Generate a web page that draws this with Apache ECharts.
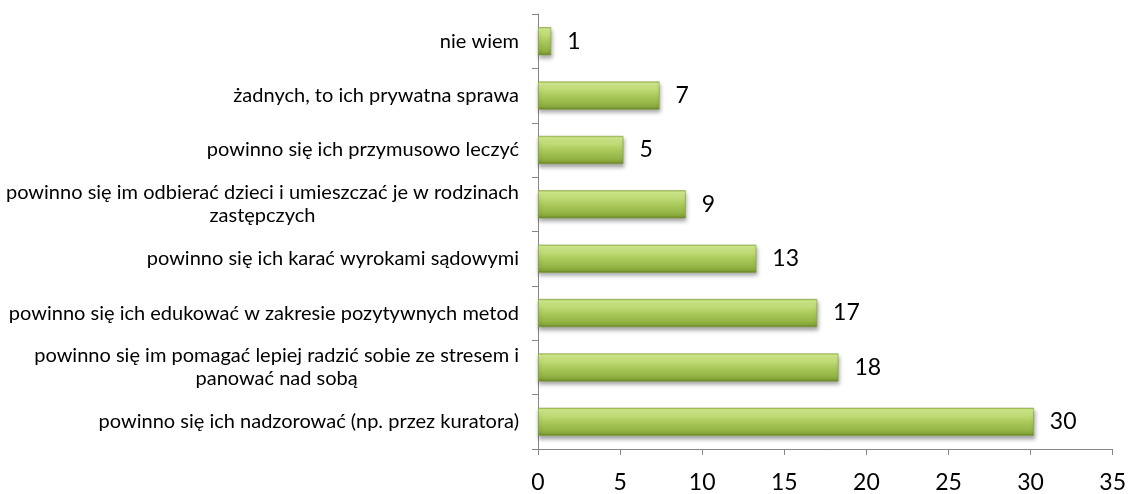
<!DOCTYPE html>
<html>
<head>
<meta charset="utf-8">
<script src="https://cdn.jsdelivr.net/npm/echarts@6/dist/echarts.min.js"></script>
<style>
  html, body { margin: 0; padding: 0; background: #fff; }
  #chart { width: 1129px; height: 494px; }
</style>
</head>
<body>
<div id="chart"></div>
<script>
// kategorie od góry do dołu
var categories = [
  'nie wiem',
  'żadnych, to ich prywatna sprawa',
  'powinno się ich przymusowo leczyć',
  'powinno się im odbierać dzieci i umieszczać je w rodzinach\nzastępczych',
  'powinno się ich karać wyrokami sądowymi',
  'powinno się ich edukować w zakresie pozytywnych metod',
  'powinno się im pomagać lepiej radzić sobie ze stresem i\npanować nad sobą',
  'powinno się ich nadzorować (np. przez kuratora)'
];
// długości słupków (etykiety zaokrąglone)
var values = [0.8, 7.4, 5.2, 9.0, 13.3, 17.0, 18.3, 30.2];
var xTicks = { min: 0, max: 35, step: 5 };

var chart = echarts.init(document.getElementById('chart'));

chart.setOption({
  backgroundColor: '#fff',
  animation: false,
  grid: { left: 538, right: 15, top: 14, bottom: 43 },
  xAxis: {
    type: 'value',
    min: xTicks.min,
    max: xTicks.max,
    interval: xTicks.step,
    axisLine: { show: true, lineStyle: { color: '#868686', width: 1 } },
    axisTick: { show: true, length: 6, lineStyle: { color: '#868686' } },
    splitLine: { show: false },
    axisLabel: { color: '#000', fontSize: 23, fontFamily: 'Lato', margin: 22 }
  },
  yAxis: {
    type: 'category',
    inverse: true,
    data: categories,
    axisLine: { show: true, lineStyle: { color: '#868686', width: 1 } },
    axisTick: { show: true, length: 6, lineStyle: { color: '#868686' } },
    axisLabel: {
      color: '#000',
      margin: 19,
      align: 'right',
      formatter: function (v) {
        // linie wyśrodkowane względem siebie
        return v.split('\n').map(function (s) { return '{c|' + s + '}'; }).join('\n');
      },
      rich: {
        c: { align: 'center', fontSize: 20, fontFamily: 'Lato', color: '#000', lineHeight: 23 }
      }
    }
  },
  series: [{
    type: 'bar',
    data: values,
    barWidth: 28,
    itemStyle: {
      color: new echarts.graphic.LinearGradient(0, 0, 0, 1, [
        { offset: 0, color: '#a3bf55' },
        { offset: 0.07, color: '#d2ec8e' },
        { offset: 0.25, color: '#c3df7a' },
        { offset: 0.5, color: '#abca5c' },
        { offset: 0.8, color: '#95b546' },
        { offset: 0.92, color: '#84a339' },
        { offset: 1, color: '#5f7a22' }
      ]),
      borderColor: '#86a33c',
      borderWidth: 0.6,
      shadowColor: 'rgba(0,0,0,0.35)',
      shadowBlur: 4,
      shadowOffsetX: 1,
      shadowOffsetY: 3
    },
    label: {
      show: true,
      position: 'right',
      distance: 16,
      color: '#000',
      fontSize: 23,
      fontFamily: 'Lato',
      formatter: function (p) { return Math.round(p.value); }
    }
  }]
});
</script>
</body>
</html>
